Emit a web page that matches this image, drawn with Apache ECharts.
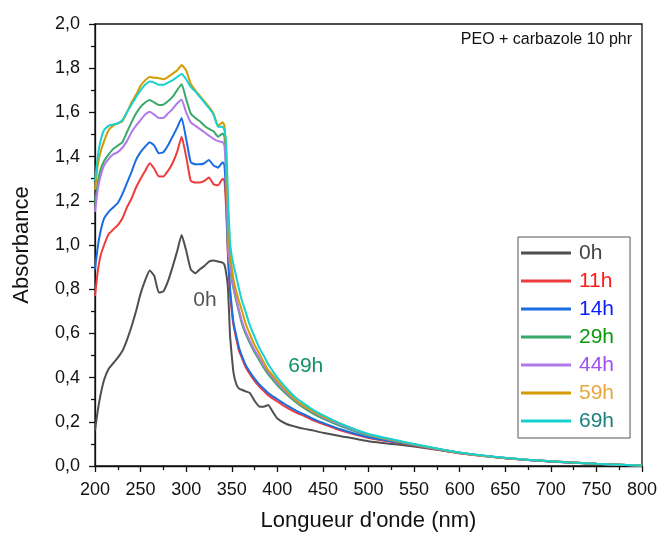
<!DOCTYPE html>
<html>
<head>
<meta charset="utf-8">
<script src="https://cdn.jsdelivr.net/npm/echarts@6/dist/echarts.min.js"></script>
<style>html,body{margin:0;padding:0;background:#fff;}#c{width:660px;height:535px;}</style>
</head>
<body>
<div id="c"></div>
<script>
// Wavelengths (nm)
const wavelengths = [200,203,206,210,215,220,225,230,235,240,245,250,255,260,265,270,275,280,285,290,295,300,305,310,315,320,325,330,335,340,342,344,346,348,350,352,355,358,361,365,370,375,380,385,390,395,400,410,420,430,440,450,470,500,550,600,650,700,750,800];

const abs0h = [0.16,0.25,0.32,0.39,0.44,0.465,0.49,0.52,0.57,0.63, 0.70,0.78,0.84,0.885,0.86,0.785,0.79,0.835,0.90,0.97, 1.045,0.975,0.89,0.872,0.89,0.905,0.925,0.93,0.925,0.92, 0.91,0.87,0.796,0.60,0.50,0.42, 0.37,0.35,0.345,0.338, 0.33,0.295,0.27,0.268,0.276,0.245,0.215, 0.19,0.178,0.168,0.16,0.15, 0.135,0.112,0.088,0.058,0.035,0.02,0.01,0.002];
const abs11h = [0.77,0.88,0.95,1.00,1.05,1.07,1.09,1.12,1.17,1.21, 1.26,1.30,1.335,1.37,1.345,1.31,1.31,1.335,1.37,1.42, 1.49,1.40,1.29,1.283,1.283,1.29,1.305,1.275,1.27,1.30, 1.29,1.15,0.93,0.79,0.70,0.635, 0.575,0.52,0.49,0.45, 0.415,0.385,0.36,0.34,0.32,0.305,0.292, 0.265,0.243,0.225,0.205,0.19, 0.16,0.127,0.093,0.058,0.035,0.02,0.01,0.002];
const abs14h = [0.89,0.99,1.06,1.12,1.15,1.17,1.19,1.23,1.28,1.33, 1.385,1.42,1.445,1.465,1.45,1.415,1.42,1.45,1.49,1.53, 1.575,1.48,1.375,1.365,1.365,1.37,1.385,1.36,1.35,1.375, 1.36,1.2,0.95,0.81,0.72,0.646, 0.59,0.535,0.50,0.46, 0.425,0.395,0.37,0.35,0.33,0.315,0.302, 0.275,0.252,0.232,0.212,0.195, 0.165,0.13,0.095,0.06,0.036,0.02,0.01,0.002];
const abs29h = [1.19,1.28,1.34,1.38,1.41,1.435,1.45,1.465,1.51,1.555, 1.595,1.625,1.645,1.656,1.645,1.633,1.635,1.65,1.67,1.70, 1.727,1.66,1.595,1.575,1.56,1.54,1.525,1.515,1.49,1.505, 1.49,1.30,0.97,0.90,0.842,0.80, 0.745,0.695,0.646,0.60, 0.555,0.515,0.48,0.445,0.415,0.39,0.365, 0.325,0.29,0.26,0.235,0.215, 0.18,0.138,0.096,0.06,0.036,0.021,0.01,0.002];
const abs44h = [1.15,1.25,1.31,1.36,1.39,1.41,1.42,1.44,1.47,1.51, 1.54,1.565,1.59,1.603,1.59,1.575,1.575,1.595,1.615,1.64, 1.657,1.60,1.555,1.54,1.525,1.51,1.495,1.48,1.47,1.465, 1.45,1.30,0.98,0.91,0.855,0.81, 0.755,0.705,0.657,0.61, 0.565,0.525,0.49,0.455,0.425,0.40,0.375, 0.333,0.297,0.267,0.242,0.221, 0.185,0.141,0.097,0.06,0.036,0.021,0.01,0.002];
const abs59h = [1.25,1.36,1.42,1.47,1.52,1.54,1.55,1.56,1.60,1.645, 1.68,1.72,1.745,1.76,1.757,1.755,1.75,1.76,1.775,1.79, 1.814,1.79,1.73,1.70,1.675,1.65,1.625,1.595,1.54,1.555, 1.54,1.40,1.10,0.96,0.90,0.842, 0.79,0.745,0.705,0.646, 0.595,0.548,0.51,0.47,0.434,0.41,0.385, 0.34,0.30,0.27,0.245,0.225, 0.19,0.143,0.098,0.06,0.036,0.021,0.01,0.002];
const abs69h = [1.29,1.40,1.47,1.52,1.54,1.545,1.55,1.565,1.60,1.635, 1.67,1.70,1.725,1.74,1.735,1.725,1.725,1.735,1.745,1.76, 1.774,1.75,1.715,1.695,1.67,1.645,1.62,1.59,1.535,1.535, 1.52,1.45,1.20,1.02,0.95,0.91, 0.855,0.80,0.751,0.70, 0.635,0.585,0.537,0.50,0.46,0.43,0.40, 0.352,0.31,0.28,0.252,0.23, 0.19,0.145,0.10,0.061,0.037,0.021,0.01,0.002];

const seriesNames = ['0h','11h','14h','29h','44h','59h','69h'];
const seriesValues = [abs0h, abs11h, abs14h, abs29h, abs44h, abs59h, abs69h];
const lineColors = ['#4f4f4f','#ef3b3b','#1a6de0','#3aa86a','#b07ae8','#d49a00','#17d0d0'];
const legendTextColors = ['#444444','#ff1a1a','#0a1aff','#0a9a0a','#a050f0','#e8a840','#1a8080'];

const xTicks = {min: 200, max: 800, interval: 50};
const yTicks = {min: 0, max: 2, interval: 0.2};

// Annotation labels: [text, wavelength, absorbance]
const annot0h = ['0h', 320.7, 0.751];
const annot69h = ['69h', 431.2, 0.4525];

const FONT = '"Liberation Sans", Arial, sans-serif';
const chart = echarts.init(document.getElementById('c'), null, {renderer: 'canvas'});

function mkLabelPoint(a, color) {
  return {
    coord: [a[1], a[2]],
    symbol: 'circle', symbolSize: 1,
    itemStyle: {color: 'rgba(0,0,0,0)'},
    label: {show: true, position: 'inside', formatter: a[0], color: color, fontSize: 21, fontFamily: FONT}
  };
}

const series = seriesNames.map((name, i) => {
  const s = {
    name: name,
    type: 'line',
    data: wavelengths.map((w, j) => [w, seriesValues[i][j]]),
    showSymbol: false,
    symbol: 'none',
    smooth: 0.15,
    lineStyle: {color: lineColors[i], width: 2},
    itemStyle: {color: lineColors[i]},
    z: 2 + i,
    animation: false
  };
  if (name === '0h') s.markPoint = {animation: false, data: [mkLabelPoint(annot0h, '#555555')]};
  if (name === '69h') s.markPoint = {animation: false, data: [mkLabelPoint(annot69h, '#14906a')]};
  return s;
});

const fmt = v => v.toFixed(1).replace('.', ',');

chart.setOption({
  animation: false,
  backgroundColor: '#ffffff',
  title: {
    text: 'PEO + carbazole 10 phr',
    right: 28, top: 32, padding: 0,
    textStyle: {fontSize: 16, fontWeight: 'normal', color: '#111', fontFamily: FONT}
  },
  grid: {left: 95, right: 18, top: 24, bottom: 69, containLabel: false, outerBoundsMode: 'none',
         show: true, borderColor: '#111', borderWidth: 1.3, backgroundColor: 'transparent'},
  legend: {
    data: seriesNames.map((n, i) => ({name: n, icon: 'rect', textStyle: {color: legendTextColors[i]}})),
    orient: 'vertical',
    left: 518, top: 237,
    padding: [5, 16, 6, 3],
    itemWidth: 50, itemHeight: 3, itemGap: 6,
    borderColor: '#555', borderWidth: 1,
    textStyle: {fontSize: 21, fontFamily: FONT, lineHeight: 22, padding: [0,0,0,3]}
  },
  xAxis: {
    type: 'value',
    min: xTicks.min, max: xTicks.max, interval: xTicks.interval,
    name: "Longueur d'onde (nm)",
    nameLocation: 'middle', nameGap: 44,
    nameTextStyle: {fontSize: 22, color: '#111', fontFamily: FONT},
    axisLine: {show: true, lineStyle: {color: '#111', width: 1.3}},
    axisTick: {show: true, inside: false, length: 6, lineStyle: {color: '#111', width: 1.3}},
    minorTick: {show: true, splitNumber: 2, length: 4, lineStyle: {color: '#111', width: 1.3}},
    axisLabel: {fontSize: 18, color: '#111', fontFamily: FONT, margin: 15},
    splitLine: {show: false}
  },
  yAxis: {
    type: 'value',
    min: yTicks.min, max: yTicks.max, interval: yTicks.interval,
    name: 'Absorbance',
    nameLocation: 'middle', nameGap: 62,
    nameTextStyle: {fontSize: 22, color: '#111', fontFamily: FONT},
    axisLine: {show: true, lineStyle: {color: '#111', width: 1.3}},
    axisTick: {show: true, inside: false, length: 6, lineStyle: {color: '#111', width: 1.3}},
    minorTick: {show: true, splitNumber: 2, length: 4, lineStyle: {color: '#111', width: 1.3}},
    axisLabel: {fontSize: 18, color: '#111', fontFamily: FONT, margin: 15, formatter: fmt},
    splitLine: {show: false}
  },
  series: series
});
</script>
</body>
</html>
